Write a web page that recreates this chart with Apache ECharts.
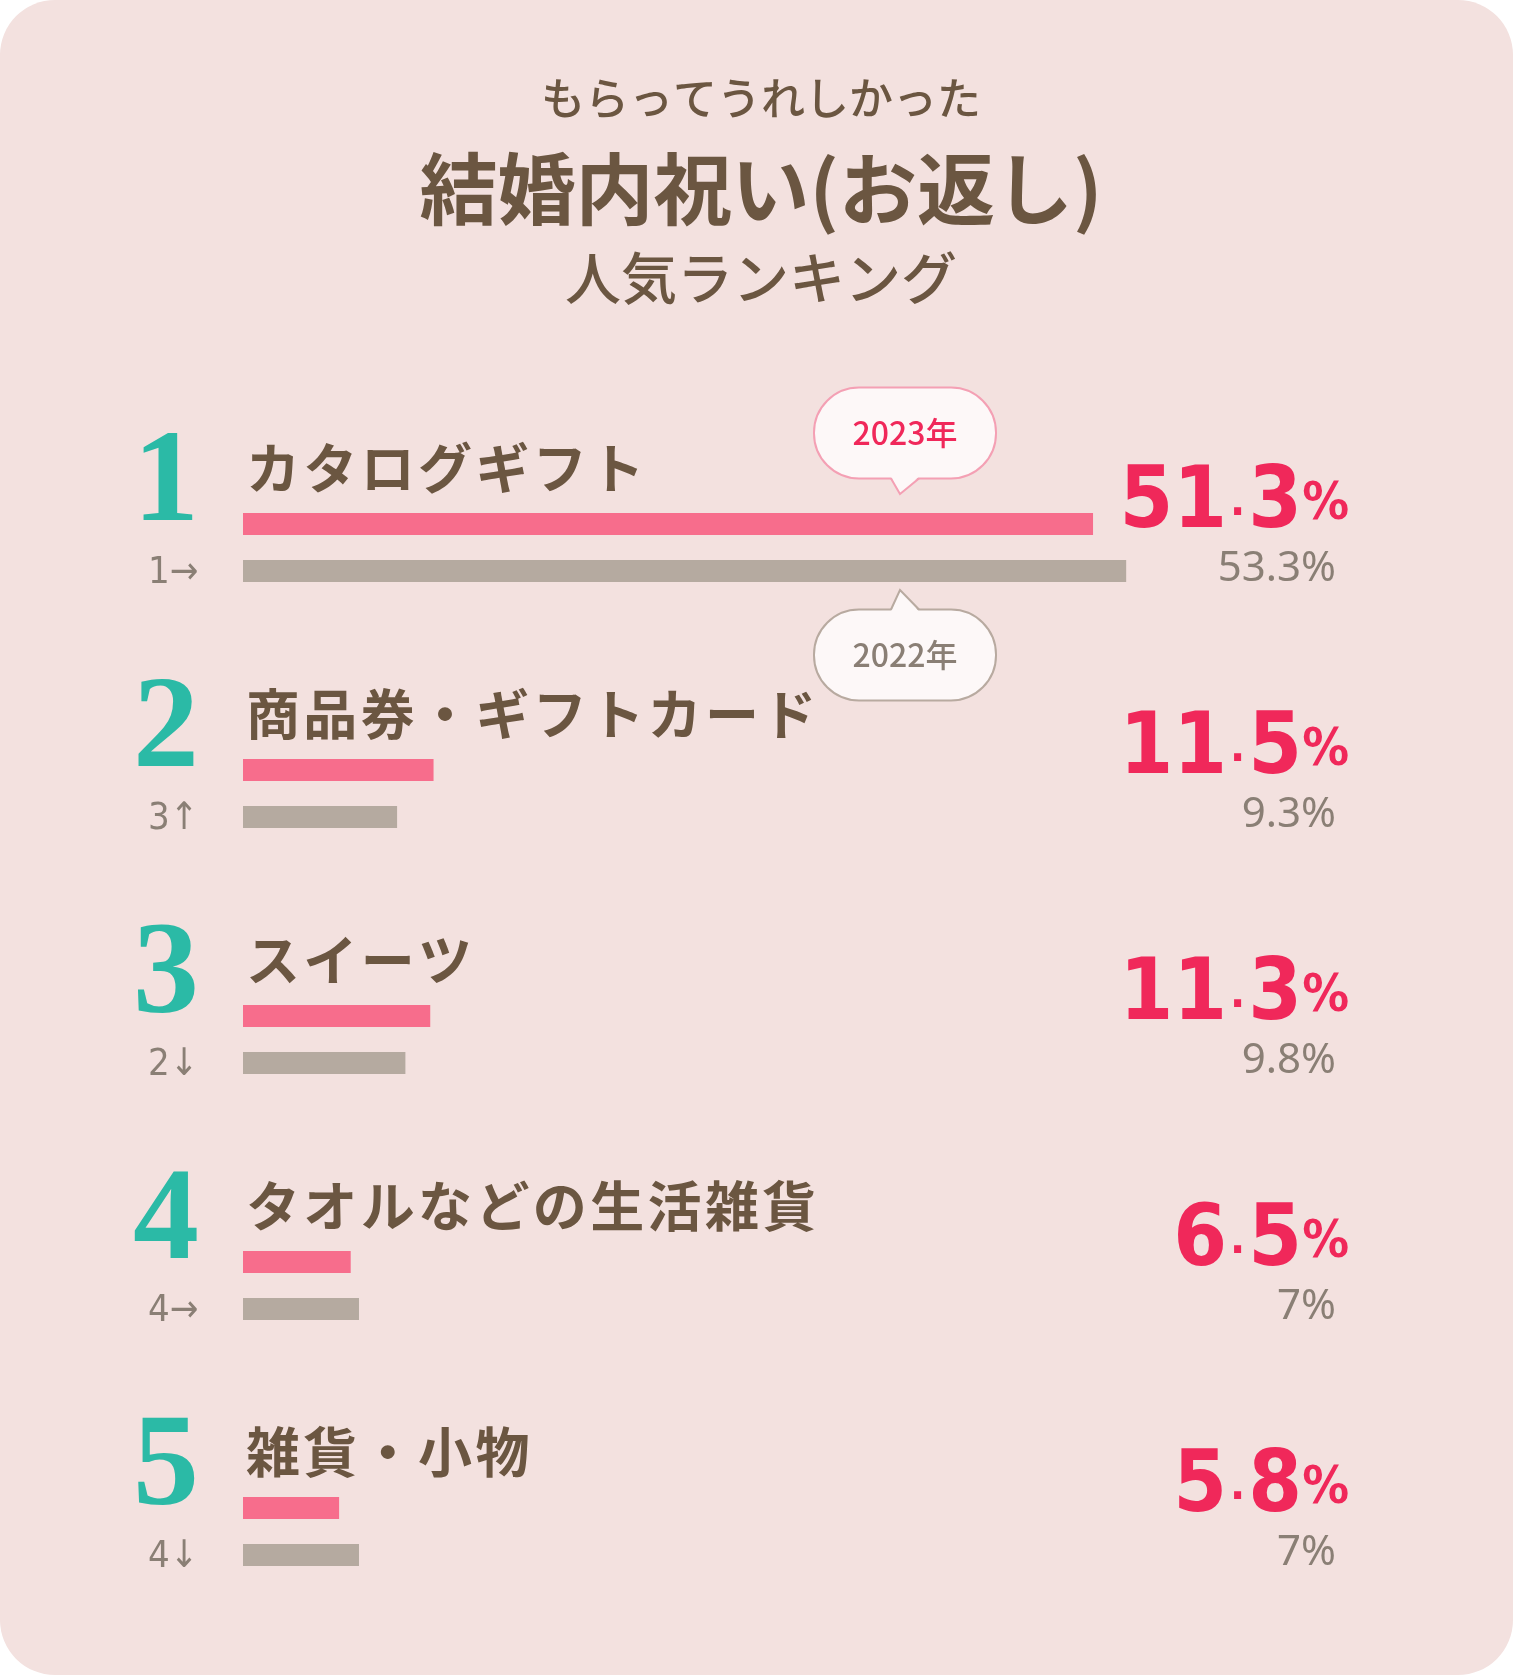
<!DOCTYPE html>
<html><head><meta charset="utf-8">
<script src="https://cdn.jsdelivr.net/npm/echarts@6/dist/echarts.min.js"></script>
<style>html,body{margin:0;padding:0;background:#fff;}#c{width:1513px;height:1675px;}</style>
</head><body><div id="c"></div>
<script>
const categories = ['カタログギフト','商品券・ギフトカード','スイーツ','タオルなどの生活雑貨','雑貨・小物'];
const ranks2023 = ['1','2','3','4','5'];
const prevRanks = ['1→','3↑','2↓','4→','4↓'];
const values2023 = [51.3, 11.5, 11.3, 6.5, 5.8];
const values2022 = [53.3, 9.3, 9.8, 7, 7];
const labels2022 = ['53.3%','9.3%','9.8%','7%','7%'];

const BROWN = '#6b5641', PINK = '#f76d8c', GRAY = '#b5aaa0', RED = '#f0285a', TEAL = '#2bbaa6', GTXT = '#8a7f75';
const chart = echarts.init(document.getElementById('c'));
const FONT = '"Noto Sans CJK JP", "Noto Sans", sans-serif';
const rowC = i => 547.5 + 246 * i;

const g = [
  {type:'rect', z:-10, shape:{x:0,y:0,width:1513,height:1675,r:55}, style:{fill:'#f3e1df'}},
  {type:'text', x:761, y:98, style:{text:'もらってうれしかった', fill:BROWN, font:'500 44px '+FONT, align:'center', verticalAlign:'middle'}},
  {type:'text', x:761, y:189, style:{text:'結婚内祝い(お返し)', fill:BROWN, font:'bold 78px '+FONT, align:'center', verticalAlign:'middle'}},
  {type:'text', x:761, y:278, style:{text:'人気ランキング', fill:BROWN, font:'500 56px '+FONT, align:'center', verticalAlign:'middle'}}
];
categories.forEach((c,i)=>{
  const r = rowC(i), p = r-23.5, q = r+23.5;
  g.push({type:'text', x:166, y:p-38, style:{text:ranks2023[i], fill:TEAL, font:'bold 132px "Liberation Serif", serif', align:'center', verticalAlign:'middle'}});
  g.push({type:'text', x:246, y:p-56, style:{text:c.split('').join('\u200A'), fill:BROWN, font:'bold 54px '+FONT, align:'left', verticalAlign:'middle'}});
  g.push({type:'text', x:148, y:q+2, style:{text:prevRanks[i], fill:GTXT, font:'38px "DejaVu Sans Condensed", sans-serif', align:'left', verticalAlign:'middle'}});
  const s = values2023[i].toFixed(1).split('.');
  g.push({type:'text', x:1349, y:p+24, style:{text:'{n|'+s[0]+'}{d|.}{n|'+s[1]+'}{p|%}', align:'right', verticalAlign:'bottom',
    rich:{n:{fill:RED, font:'bold 86px "DejaVu Sans Condensed", sans-serif'}, d:{fill:RED, font:'bold 40px "DejaVu Sans", sans-serif', padding:[0,3,0,3]}, p:{fill:RED, font:'bold 52px "DejaVu Sans Condensed", sans-serif'}}}});
  g.push({type:'text', x:1336, y:q-2, style:{text:labels2022[i], fill:GTXT, font:'42px "Noto Sans", sans-serif', align:'right', verticalAlign:'middle'}});
});
function bubble(cx, cy, tipY, text, border, color){
  const w=182,h=91, up = tipY < cy;
  const baseY = up ? cy-h/2 : cy+h/2;
  g.push({type:'rect', z:5, shape:{x:cx-w/2,y:cy-h/2,width:w,height:h,r:45}, style:{fill:'#fdf8f8', stroke:border, lineWidth:2}});
  g.push({type:'polygon', z:6, shape:{points:[[cx-14,baseY+(up?2:-2)],[cx+14,baseY+(up?2:-2)],[cx-5,tipY]]}, style:{fill:'#fdf8f8'}});
  g.push({type:'polyline', z:7, shape:{points:[[cx-14,baseY],[cx-5,tipY],[cx+14,baseY]]}, style:{stroke:border, lineWidth:2, fill:null}});
  g.push({type:'text', z:8, x:cx, y:cy, style:{text:text, fill:color, font:'500 32px "Noto Sans CJK JP", sans-serif', align:'center', verticalAlign:'middle'}});
}
bubble(905, 433, 494, '2023年', '#f4a0b4', RED);
bubble(905, 655, 590, '2022年', '#b8aaa0', GTXT);

chart.setOption({
  animation:false,
  grid:{left:243, top:424.5, width:60*16.57, height:1230},
  xAxis:{type:'value', min:0, max:60, show:false},
  yAxis:{type:'category', data:categories, inverse:true, show:false},
  series:[
    {type:'bar', name:'2023', data:values2023, barWidth:22, barGap:'114%', itemStyle:{color:PINK}},
    {type:'bar', name:'2022', data:values2022, barWidth:22, itemStyle:{color:GRAY}}
  ],
  graphic:g
});
</script></body></html>
